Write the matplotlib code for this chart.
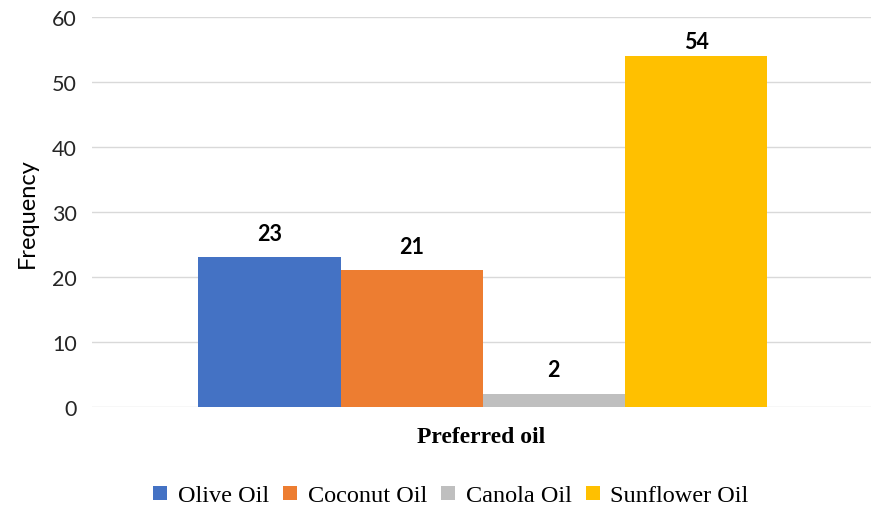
import matplotlib
matplotlib.use('Agg')
import matplotlib.pyplot as plt
from matplotlib.patches import Patch

# === Data ===
oils = ['Olive Oil', 'Coconut Oil', 'Canola Oil', 'Sunflower Oil']
frequency = [23, 21, 2, 54]
colors = ['#4472C4', '#ED7D31', '#BFBFBF', '#FFC000']
y_ticks = [0, 10, 20, 30, 40, 50, 60]

fig = plt.figure(figsize=(8.71, 5.10), dpi=100)
ax = fig.add_axes([92 / 871, 1 - 407.7 / 510, 779 / 871, (407.7 - 18) / 510])

bar_w = 0.2
offsets = [-0.3, -0.1, 0.1, 0.3]
for off, val, col in zip(offsets, frequency, colors):
    ax.bar(off, val, width=bar_w, color=col, zorder=3)
    # labels sit above the bars, kept inside the plot area for the tall one
    ly = min(val + 3.7, 56.3)
    ax.text(off, ly, str(val), ha='center', va='center', fontsize=15.5,
            fontweight='bold', family='Lato', zorder=4)

ax.set_xlim(-0.5495, 0.546)
ax.set_ylim(0, 60)
ax.set_yticks(y_ticks)
ax.set_xticks([])
ax.tick_params(axis='y', length=0, pad=11, labelsize=15.5)
for lab in ax.get_yticklabels():
    lab.set_family('Lato')
    lab.set_color('#262626')

ax.grid(axis='y', color='#d9d9d9', linewidth=1.0, zorder=0)
for s in ax.spines.values():
    s.set_visible(False)

ax.set_ylabel('Frequency', fontsize=17, family='Lato', labelpad=10)
ax.set_xlabel('Preferred oil', fontsize=17, fontweight='bold',
              family='Liberation Serif', labelpad=14)

handles = [Patch(facecolor=c, label=o) for o, c in zip(oils, colors)]
fig.legend(handles=handles, loc='center', bbox_to_anchor=(451 / 871, 1 - 497 / 510),
           ncol=4, frameon=False, prop={'family': 'Liberation Serif', 'size': 17.5},
           handlelength=0.55, handleheight=0.55, handletextpad=0.45, columnspacing=0.6)

fig.savefig('out.png', dpi=100)
